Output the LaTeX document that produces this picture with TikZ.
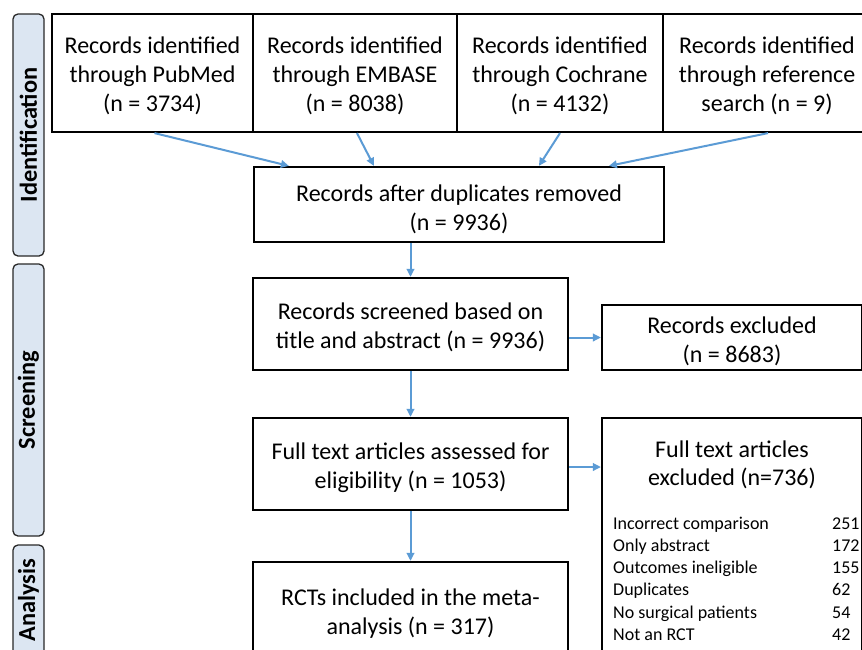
\documentclass[tikz,border=0pt]{standalone}
\usepackage{fontspec}
\setmainfont{Carlito}
\usetikzlibrary{arrows.meta}
\definecolor{flowblue}{RGB}{91,155,213}
\definecolor{phasefill}{RGB}{220,230,242}
\definecolor{phaseline}{RGB}{40,40,40}
\tikzset{
  box/.style={draw=black, line width=2.2pt, fill=white, inner sep=0pt},
  boxtext/.style={align=center, inner sep=0pt,
    font=\fontsize{24}{29}\selectfont},
  phase/.style={draw=phaseline, line width=1.3pt, fill=phasefill,
    rounded corners=5pt, inner sep=0pt, minimum width=31pt},
  phasetext/.style={rotate=90, font=\fontsize{24.4}{28}\selectfont\bfseries},
  flow/.style={draw=flowblue, line width=2pt,
    -{Triangle[length=8pt,width=7.5pt]}},
}
% a framed step: name, x, y, width, height, downward text offset, text
\newcommand\flowbox[7]{%
  \node[box, minimum width=#4pt, minimum height=#5pt] (#1) at (#2,#3) {};
  \node[boxtext] (#1-t) at ([yshift=-#6pt]#1.center) {#7};}
\begin{document}
\begin{tikzpicture}[x=1pt,y=-1pt]
\useasboundingbox (0,0) rectangle (862,649);
\clip (0,0) rectangle (862,649);
\fill[white] (0,0) rectangle (862,649);

% phase labels on the left
\node[phase, minimum height=242pt] (pid) at (28.5,135) {};
\node[phasetext] (tid) at (pid.center) {Identification};
\node[phase, minimum height=272pt] (pscr) at (28.5,400) {};
\node[phasetext] (tscr) at (pscr.center) {Screening};
\node[phase, minimum height=110pt] (pana) at (28.5,600) {};
\node[phasetext] (tana) at (pana.center) {Analysis};

% sources
\flowbox{b1}{152.5}{73}{201}{118}{3}{Records identified\\through PubMed\\(n = 3734)}
\flowbox{b2}{355}{73}{204}{118}{3}{Records identified\\through EMBASE\\(n = 8038)}
\flowbox{b3}{560}{73}{206}{118}{3}{Records identified\\through Cochrane\\(n = 4132)}
\flowbox{b4}{767}{73}{208}{118}{3}{Records identified\\through reference\\search (n = 9)}

% main flow
\flowbox{dup}{459}{204.5}{410}{75}{5}{Records after duplicates removed\\(n = 9936)}
\flowbox{screen}{410.5}{324}{315}{92}{3.5}{Records screened based on\\title and abstract (n = 9936)}
\flowbox{excl1}{732}{337.5}{260}{65}{3.5}{Records excluded\\(n = 8683)}
\flowbox{full}{410.5}{464}{315}{92}{3.5}{Full text articles assessed for\\eligibility (n = 1053)}
\flowbox{rct}{410.5}{611}{315}{98}{3}{RCTs included in the meta-\\analysis (n = 317)}

% exclusion reasons
\node[box, minimum width=260pt, minimum height=260pt] (excl2) at (732,548) {};
\node[boxtext, font=\fontsize{24}{28}\selectfont] (excl2t) at (732,465)
  {Full text articles\\excluded (n=736)};
\node[anchor=north west, inner sep=0pt, font=\fontsize{18}{22.2}\selectfont]
  (reasons) at (613,513.5)
  {\begin{tabular}{@{}p{219pt}@{}l@{}}
   Incorrect comparison & 251\\
   Only abstract & 172\\
   Outcomes ineligible & 155\\
   Duplicates & 62\\
   No surgical patients & 54\\
   Not an RCT & 42
   \end{tabular}};

% connectors
\draw[flow] ([xshift=2pt]b1.south) -- ([xshift=36pt]dup.north west);
\draw[flow] ([xshift=2pt]b2.south) -- ([xshift=121pt]dup.north west);
\draw[flow] (b3.south) -- ([xshift=286pt]dup.north west);
\draw[flow] ([xshift=1pt]b4.south) -- ([xshift=356pt]dup.north west);
\draw[flow] (screen.north |- dup.south) -- (screen.north);
\draw[flow] (excl1.west -| screen.east) -- (excl1.west);
\draw[flow] (screen.south) -- (full.north);
\draw[flow] ([yshift=-3pt]full.east) -- ([yshift=-3pt]full.east -| excl2.west);
\draw[flow] (full.south) -- (rct.north);
\end{tikzpicture}
\end{document}
